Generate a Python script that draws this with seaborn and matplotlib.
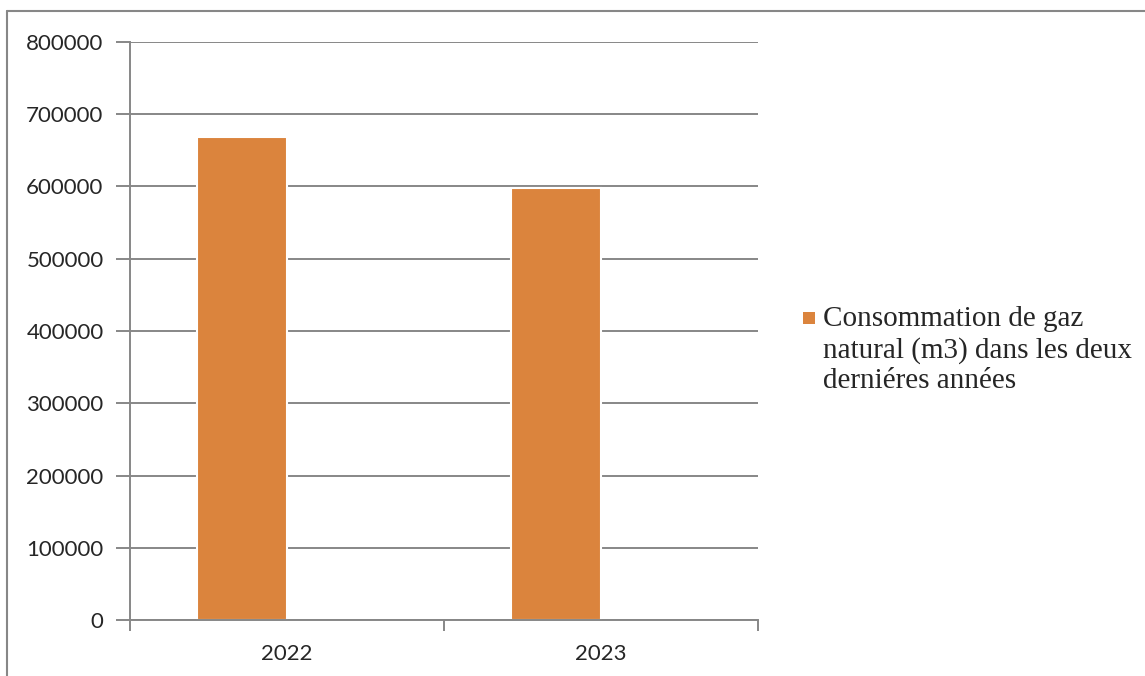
import pandas as pd
import seaborn as sns
import matplotlib.pyplot as plt
from matplotlib.patches import Patch, Rectangle
from matplotlib.lines import Line2D
from matplotlib.legend_handler import HandlerPatch

# Données
years = ['2022', '2023']
series_names = ['Consommation de gaz\nnatural (m3) dans les deux\nderniéres années', ' ']
gas_values = [669000, 598000]
empty_values = [float('nan'), float('nan')]
y_ticks = [0, 100000, 200000, 300000, 400000, 500000, 600000, 700000, 800000]

BAR_COLOR = '#DB843D'
GREY = '#878787'
LINE_SPACING = 1.23
SQUARE_SHIFT = 1.1


def top_square(legend, orig_handle, xdescent, ydescent, width, height, fontsize):
    # carré de légende aligné sur la première ligne du texte
    s = 0.42 * fontsize
    y = -ydescent + (height - s) / 2 + SQUARE_SHIFT * fontsize
    return Rectangle((-xdescent, y), s, s)


def main():
    df = pd.DataFrame({
        'year': years * 2,
        'series': [series_names[0]] * 2 + [series_names[1]] * 2,
        'value': gas_values + empty_values,
    })

    sns.set_style('white')
    plt.rcParams['font.family'] = ['Lato', 'DejaVu Sans']

    fig = plt.figure(figsize=(11.45, 6.76), dpi=100)
    ax = fig.add_axes([0.1135, 0.0828, 0.5485, 0.8551])

    sns.barplot(data=df, x='year', y='value', hue='series', hue_order=series_names,
                palette=[BAR_COLOR, BAR_COLOR], saturation=1, width=0.571, dodge=True,
                edgecolor='white', linewidth=1.5, errorbar=None, legend=False, ax=ax)

    ax.set_xlim(-0.5, 1.5)
    ax.set_ylim(0, 800000)
    ax.set_yticks(y_ticks)
    ax.set_yticklabels([str(v) for v in y_ticks])
    ax.set_xlabel('')
    ax.set_ylabel('')

    ax.yaxis.grid(True, color=GREY, linewidth=1.4)
    ax.set_axisbelow(True)
    for side in ['top', 'right']:
        ax.spines[side].set_visible(False)
    for side in ['left', 'bottom']:
        ax.spines[side].set_color(GREY)
        ax.spines[side].set_linewidth(1.4)

    ax.tick_params(axis='y', length=10, width=1.4, color=GREY, pad=9, labelsize=16, left=True)
    ax.tick_params(axis='x', which='major', length=0, pad=17, labelsize=16)
    ax.set_xticks([-0.5, 0.5, 1.5], minor=True)
    ax.tick_params(axis='x', which='minor', length=8, width=1.4, color=GREY, bottom=True)

    handle = Patch(facecolor=BAR_COLOR, edgecolor='none')
    leg = fig.legend([handle], [series_names[0]], loc='upper left', bbox_to_anchor=(0.678, 0.586),
                     frameon=False, handlelength=0.42, handleheight=0.7, handletextpad=0.27,
                     handler_map={Patch: HandlerPatch(patch_func=top_square)},
                     prop={'family': 'Liberation Serif', 'size': 21})
    for t in leg.get_texts():
        t.set_linespacing(LINE_SPACING)

    # cadre du graphique
    fig.add_artist(Line2D([0.006, 1.0], [0.984, 0.984], color=GREY, linewidth=1.5))
    fig.add_artist(Line2D([0.006, 0.006], [0.0, 0.984], color=GREY, linewidth=1.5))

    fig.savefig('out.png', dpi=100)


if __name__ == '__main__':
    main()
